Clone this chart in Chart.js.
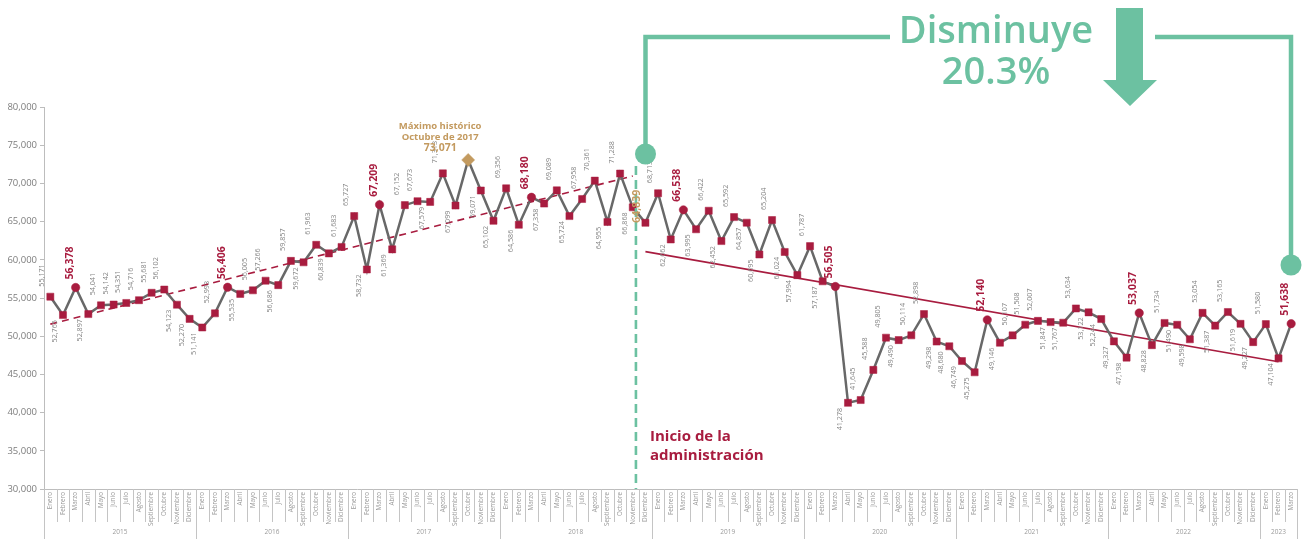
<!DOCTYPE html>
<html lang="es">
<head>
<meta charset="utf-8">
<script src="https://cdn.jsdelivr.net/npm/chart.js@4.4.1/dist/chart.umd.min.js"></script>
<style>
  html, body { margin: 0; padding: 0; background: #fff; }
  #wrap { position: relative; width: 1303px; height: 539px; }
</style>
</head>
<body>
<div id="wrap"><canvas id="grafica"></canvas></div>
<script>
// Serie mensual enero 2015 - marzo 2023
const meses = ['Enero','Febrero','Marzo','Abril','Mayo','Junio','Julio','Agosto','Septiembre','Octubre','Noviembre','Diciembre'];
const anios = [2015, 2016, 2017, 2018, 2019, 2020, 2021, 2022, 2023];
const mesesPorAnio = [12, 12, 12, 12, 12, 12, 12, 12, 3];

const valores = [
  55171, 52765, 56378, 52897, 54041, 54142, 54351, 54716, 55681, 56102, 54123, 52270, // 2015
  51141, 52993, 56406, 55535, 56005, 57266, 56686, 59857, 59672, 61963, 60839, 61683, // 2016
  65727, 58732, 67209, 61369, 67152, 67673, 67579, 71313, 67099, 73071, 69071, 65102, // 2017
  69356, 64586, 68180, 67358, 69089, 65724, 67958, 70361, 64955, 71288, 66868, 64839, // 2018
  68713, 62662, 66538, 63995, 66422, 62452, 65592, 64857, 60695, 65204, 61024, 57994, // 2019
  61787, 57187, 56505, 41278, 41645, 45588, 49805, 49490, 50114, 52898, 49298, 48680, // 2020
  46749, 45275, 52140, 49146, 50107, 51508, 52007, 51847, 51767, 53634, 53122, 52244, // 2021
  49327, 47198, 53037, 48828, 51734, 51490, 49598, 53054, 51387, 53165, 51619, 49227, // 2022
  51580, 47104, 51638                                                                  // 2023
];

// tendencias (extremos)
const tendenciaAntes = { desde: 0, hasta: 46, valores: [51580, 70970] };
const tendenciaDespues = { desde: 47, hasta: 97, valores: [61070, 46650] };

const mesDestacado = 'Marzo';
const inicioAdministracion = 47; // diciembre 2018
const yTicks = [30000, 35000, 40000, 45000, 50000, 55000, 60000, 65000, 70000, 75000, 80000];

// ---- construcción ----
const etiquetas = [];
anios.forEach((a, k) => {
  for (let m = 0; m < mesesPorAnio[k]; m++) etiquetas.push(meses[m]);
});
const idxMax = valores.indexOf(Math.max(...valores));

const GRIS = '#686868';
const GUINDA = '#a81c3f';
const DORADO = '#c39a5f';
const VERDE = '#6cc1a1';
const FUENTE = "'Open Sans', 'DejaVu Sans', sans-serif";

function tipo(i) {
  if (i === idxMax) return 'max';
  if (etiquetas[i] === mesDestacado) return 'dest';
  return 'normal';
}

function linea(t) {
  const d = valores.map(() => null);
  d[t.desde] = t.valores[0];
  d[t.hasta] = t.valores[1];
  return d;
}

const fmt = v => v.toLocaleString('en-US');

const etiquetasDatos = {
  id: 'etiquetasDatos',
  afterDatasetsDraw(chart) {
    const ctx = chart.ctx;
    const { x: xs } = chart.scales;
    const meta = chart.getDatasetMeta(0);
    const paso = xs.getPixelForValue(1) - xs.getPixelForValue(0);
    ctx.save();

    // línea vertical de inicio de administración
    const xi = xs.getPixelForValue(inicioAdministracion - 1) + paso * 0.25;
    ctx.strokeStyle = VERDE;
    ctx.lineWidth = 2.6;
    ctx.setLineDash([9, 5]);
    ctx.beginPath();
    ctx.moveTo(xi, 166);
    ctx.lineTo(xi, chart.chartArea.bottom);
    ctx.stroke();
    ctx.setLineDash([]);

    ctx.textBaseline = 'middle';
    valores.forEach((v, i) => {
      const p = meta.data[i];
      const t = tipo(i);
      if (t === 'max') {
        ctx.fillStyle = DORADO;
        ctx.font = "bold 9.5px " + FUENTE;
        ctx.textAlign = 'center';
        ctx.fillText('Máximo histórico', p.x - 28, p.y - 34);
        ctx.fillText('Octubre de 2017', p.x - 28, p.y - 23);
        ctx.font = "bold 10.5px " + FUENTE;
        ctx.fillText(fmt(v), p.x - 28, p.y - 12);
        return;
      }
      ctx.save();
      if (i === inicioAdministracion) {
        ctx.translate(p.x - 8, p.y);
        ctx.rotate(-Math.PI / 2);
        ctx.fillStyle = DORADO;
        ctx.font = "bold 10.5px " + FUENTE;
        ctx.textAlign = 'left';
        ctx.fillText(fmt(v), 0, 0);
      } else if (t === 'dest') {
        ctx.translate(p.x - 6, p.y - 8);
        ctx.rotate(-Math.PI / 2);
        ctx.fillStyle = GUINDA;
        ctx.font = "bold 10.5px " + FUENTE;
        ctx.textAlign = 'left';
        ctx.fillText(fmt(v), 0, 0);
      } else {
        const arriba = i === 0 || v >= valores[i - 1];
        ctx.translate(p.x - 8, arriba ? p.y - 10 : p.y + 5);
        ctx.rotate(-Math.PI / 2);
        ctx.fillStyle = '#858585';
        ctx.font = "7.2px " + FUENTE;
        ctx.textAlign = arriba ? 'left' : 'right';
        ctx.fillText(fmt(v), 0, 0);
      }
      ctx.restore();
    });
    ctx.restore();
  },
  afterDraw(chart) {
    const ctx = chart.ctx;
    const { x: xs } = chart.scales;
    const area = chart.chartArea;
    const paso = xs.getPixelForValue(1) - xs.getPixelForValue(0);
    ctx.save();

    // separadores del eje x
    ctx.strokeStyle = '#c4c4c4';
    ctx.lineWidth = 1;
    for (let i = 0; i <= valores.length; i++) {
      const xb = Math.round(xs.getPixelForValue(0) - paso / 2 + paso * i) + 0.5;
      const largo = i % 12 === 0 || i === valores.length;
      ctx.beginPath();
      ctx.moveTo(xb, area.bottom);
      ctx.lineTo(xb, largo ? 539 : 522);
      ctx.stroke();
    }
    // años
    ctx.fillStyle = '#9a9a9a';
    ctx.font = "6.5px " + FUENTE;
    ctx.textAlign = 'center';
    ctx.textBaseline = 'middle';
    let ini = 0;
    anios.forEach((a, k) => {
      const fin = ini + mesesPorAnio[k] - 1;
      const xc = (xs.getPixelForValue(ini) + xs.getPixelForValue(fin)) / 2;
      ctx.fillText(String(a), xc, 532);
      ini = fin + 1;
    });

    // texto inicio de administración
    ctx.fillStyle = GUINDA;
    ctx.font = "bold 15px " + FUENTE;
    ctx.textAlign = 'left';
    ctx.textBaseline = 'alphabetic';
    ctx.fillText('Inicio de la', 650, 441);
    ctx.fillText('administración', 650, 460);

    // anotación "Disminuye 20.3%"
    ctx.strokeStyle = VERDE;
    ctx.fillStyle = VERDE;
    ctx.lineWidth = 4.5;
    ctx.beginPath();
    ctx.moveTo(645.5, 154);
    ctx.lineTo(645.5, 37);
    ctx.lineTo(890, 37);
    ctx.moveTo(1155, 37);
    ctx.lineTo(1291, 37);
    ctx.lineTo(1291, 265);
    ctx.stroke();
    ctx.beginPath(); ctx.arc(645.5, 154, 10.5, 0, Math.PI * 2); ctx.fill();
    ctx.beginPath(); ctx.arc(1291, 265, 10.5, 0, Math.PI * 2); ctx.fill();
    // flecha
    ctx.beginPath();
    ctx.moveTo(1116, 8); ctx.lineTo(1143, 8); ctx.lineTo(1143, 80);
    ctx.lineTo(1157, 80); ctx.lineTo(1130, 106); ctx.lineTo(1103, 80);
    ctx.lineTo(1116, 80); ctx.closePath();
    ctx.fill();
    ctx.font = "600 38px " + FUENTE;
    ctx.textAlign = 'center';
    ctx.fillText('Disminuye', 996, 43);
    ctx.fillText('20.3%', 996, 84);
    ctx.restore();
  }
};

new Chart(document.getElementById('grafica'), {
  type: 'line',
  data: {
    labels: etiquetas,
    datasets: [
      {
        data: valores,
        borderColor: GRIS,
        borderWidth: 2.5,
        tension: 0,
        pointStyle: valores.map((v, i) => ({ max: 'rectRot', dest: 'circle', normal: 'rect' })[tipo(i)]),
        pointRadius: valores.map((v, i) => ({ max: 6.5, dest: 4.2, normal: 5 })[tipo(i)]),
        pointBackgroundColor: valores.map((v, i) => tipo(i) === 'max' ? DORADO : GUINDA),
        pointBorderColor: valores.map((v, i) => tipo(i) === 'max' ? DORADO : GUINDA),
        pointBorderWidth: 0.5,
        order: 0
      },
      {
        data: linea(tendenciaAntes),
        borderColor: GUINDA,
        borderWidth: 1.6,
        borderDash: [7, 5],
        pointRadius: 0,
        spanGaps: true,
        order: 1
      },
      {
        data: linea(tendenciaDespues),
        borderColor: GUINDA,
        borderWidth: 1.6,
        pointRadius: 0,
        spanGaps: true,
        order: 1
      }
    ]
  },
  options: {
    responsive: true,
    maintainAspectRatio: false,
    animation: false,
    events: [],
    layout: { padding: { top: 107, right: 1, left: 0, bottom: 0 } },
    plugins: { legend: { display: false }, tooltip: { enabled: false } },
    scales: {
      x: {
        type: 'category',
        offset: true,
        grid: { display: false, drawTicks: false },
        border: { display: true, color: '#bdbdbd', width: 1 },
        ticks: {
          autoSkip: false,
          minRotation: 90,
          maxRotation: 90,
          padding: 3,
          color: '#9a9a9a',
          font: { family: FUENTE, size: 6.3 }
        },
        afterFit: s => { s.height = 50; }
      },
      y: {
        min: 30000,
        max: 80000,
        afterBuildTicks: s => { s.ticks = yTicks.map(v => ({ value: v })); },
        grid: { drawOnChartArea: false, tickLength: 4, color: '#bdbdbd' },
        border: { display: true, color: '#bdbdbd', width: 1 },
        ticks: {
          padding: 3,
          color: '#7d7d7d',
          font: { family: FUENTE, size: 9.5 },
          callback: v => fmt(v)
        },
        afterFit: s => { s.width = 44; }
      }
    }
  },
  plugins: [etiquetasDatos]
});
</script>
</body>
</html>
